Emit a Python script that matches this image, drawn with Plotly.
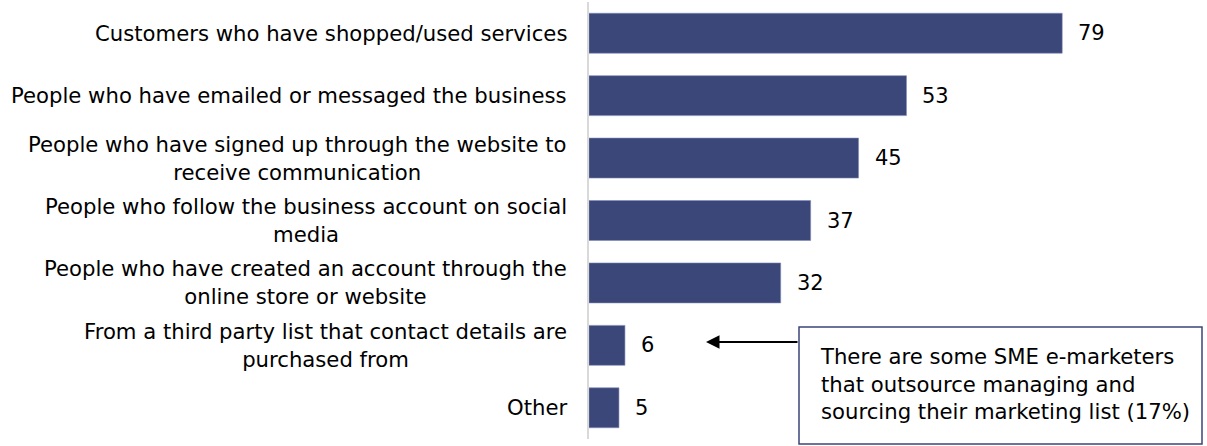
import plotly.graph_objects as go

# Sources of contacts for the marketing list (% of SME e-marketers)
categories = [
    "Customers who have shopped/used services",
    "People who have emailed or messaged the business",
    "People who have signed up through the website to<br>receive communication",
    "People who follow the business account on social<br>media",
    "People who have created an account through the<br>online store or website",
    "From a third party list that contact details are<br>purchased from",
    "Other",
]
values = [79, 53, 45, 37, 32, 6, 5]
callout_text = ("There are some SME e-marketers<br>"
                "that outsource managing and<br>"
                "sourcing their marketing list (17%)")

W, H = 1207, 446
ML, MR, MT, MB = 589, 5, 2, 7
PW, PH = W - ML - MR, H - MT - MB
X_MAX = PW / 5.99  # ~6 px per percentage point

FONT = "DejaVu Sans"
NAVY = "#3b4679"


def px_x(px):
    return (px - ML) / PW


def px_y(py):
    return (H - MB - py) / PH


fig = go.Figure(
    go.Bar(
        x=values,
        y=categories,
        orientation="h",
        marker=dict(color=NAVY, line=dict(color="#7f8bb8", width=0.6)),
        hoverinfo="skip",
    )
)

annotations = []
# category labels, right-aligned block with centred lines
for cat in categories:
    annotations.append(dict(
        x=0, y=cat, xref="paper", yref="y", text=cat, showarrow=False,
        xanchor="right", yanchor="middle", align="center", xshift=-20,
        font=dict(family=FONT, size=21.2, color="#000000"),
    ))
# value labels just past each bar
for cat, v in zip(categories, values):
    annotations.append(dict(
        x=v, y=cat, xref="x", yref="y", text=str(v), showarrow=False,
        xanchor="left", yanchor="middle", xshift=14,
        font=dict(family=FONT, size=21, color="#000000"),
    ))
# callout text
annotations.append(dict(
    x=px_x(818), y=px_y(384), xref="paper", yref="paper", text=callout_text,
    showarrow=False, xanchor="left", yanchor="middle", align="left",
    font=dict(family=FONT, size=21.2, color="#000000"),
))
# arrow from callout box towards the third-party bar
annotations.append(dict(
    x=px_x(706), y=px_y(342), xref="paper", yref="paper", text="",
    showarrow=True, ax=93, ay=0, arrowhead=2, arrowsize=1.5,
    arrowwidth=1.8, arrowcolor="#000000",
))

fig.update_layout(
    width=W, height=H,
    margin=dict(l=ML, r=MR, t=MT, b=MB, pad=0),
    paper_bgcolor="white", plot_bgcolor="white",
    bargap=0.36,
    showlegend=False,
    xaxis=dict(range=[0, X_MAX], visible=False, fixedrange=True),
    yaxis=dict(
        autorange="reversed", showticklabels=False, ticks="",
        showgrid=False, zeroline=False,
        showline=True, linecolor="#d9d9d9", linewidth=2,
        fixedrange=True,
    ),
    annotations=annotations,
    shapes=[dict(
        type="rect", xref="paper", yref="paper",
        x0=px_x(799), x1=px_x(1202), y0=px_y(444), y1=px_y(327),
        line=dict(color=NAVY, width=1.5), fillcolor="rgba(0,0,0,0)",
        layer="above",
    )],
)

fig.write_html("out.html")
